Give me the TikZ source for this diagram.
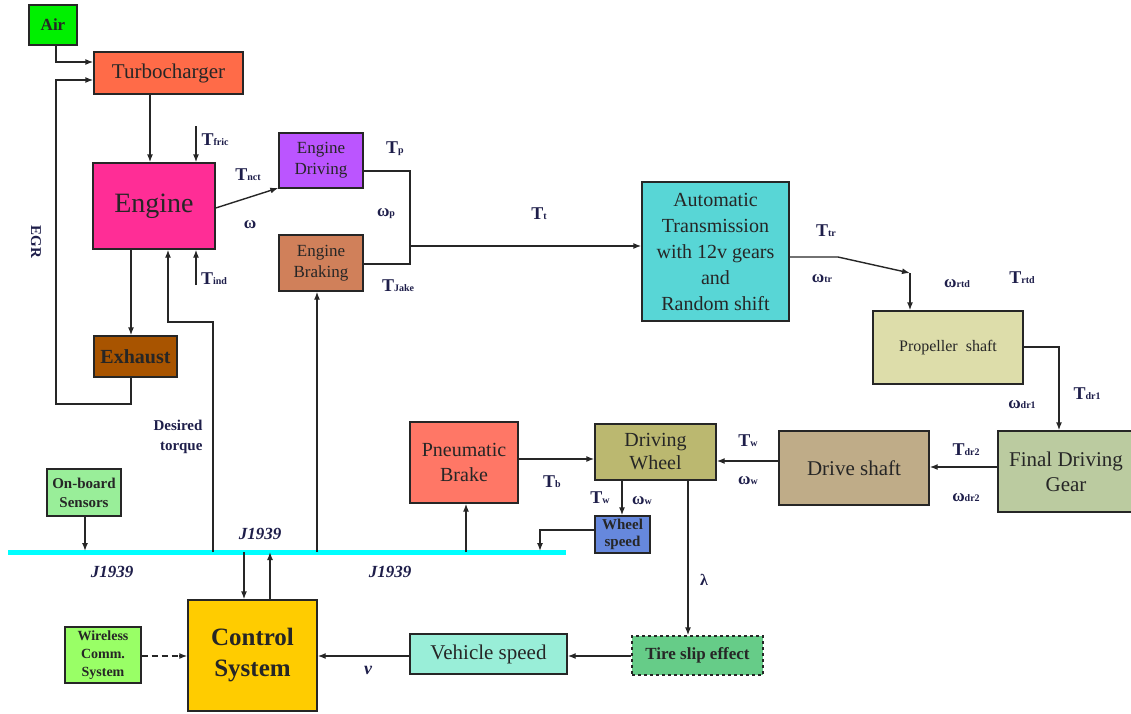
\documentclass[tikz,border=0pt]{standalone}
\usepackage{fontspec}
\setmainfont{Liberation Serif}
\usetikzlibrary{arrows.meta}
\definecolor{lblc}{HTML}{1E1E4A}
\newcommand\lblT[1]{{\fontsize{18}{18}\selectfont\bfseries T}{\fontsize{10}{10}\selectfont\bfseries #1}}
\newcommand\lblW[1]{{\fontsize{17}{17}\selectfont\bfseries ω}{\fontsize{10}{10}\selectfont\bfseries #1}}
\newcommand\fs[2]{\fontsize{#1}{#2}\selectfont}
\begin{document}
\begin{tikzpicture}[x=1pt,y=-1pt,
  box/.style={draw=black!85,line width=1.4pt,inner sep=0pt,align=center,text=black!85},
  conn/.style={line width=1.4pt,draw=black!85},
  arr/.style={conn,-{Latex[length=8pt,width=6pt]}},
  lbl/.style={text=lblc,inner sep=0pt},
  jl/.style={lbl,font=\fs{17}{17}\bfseries\itshape}]
\useasboundingbox (0,0) rectangle (1131,713);
% boxes
\node[box,fill={rgb,255:red,0;green,240;blue,0},minimum width=48pt,minimum height=40pt,font=\fs{17}{17}\bfseries] (air) at (53,25) {Air};
\node[box,fill={rgb,255:red,255;green,107;blue,72},minimum width=149pt,minimum height=42pt,font=\fs{21}{21}] (turbo) at (168.5,73) {Turbocharger};
\node[box,fill={rgb,255:red,255;green,45;blue,150},minimum width=122pt,minimum height=86pt,font=\fs{28}{28}] (engine) at (154,206) {Engine};
\node[box,fill={rgb,255:red,168;green,84;blue,0},minimum width=83pt,minimum height=41pt,font=\fs{20}{20}\bfseries] (exhaust) at (135.5,356.5) {Exhaust};
\node[box,fill={rgb,255:red,187;green,85;blue,255},minimum width=84pt,minimum height=55pt,font=\fs{17}{21}] (edrive) at (321,160.5) {Engine\\Driving};
\node[box,fill={rgb,255:red,208;green,128;blue,90},minimum width=84pt,minimum height=56pt,font=\fs{17}{21}] (ebrake) at (321,263) {Engine\\Braking};
\node[box,fill={rgb,255:red,88;green,214;blue,214},minimum width=147pt,minimum height=139pt,font=\fs{20}{26}] (trans) at (715.5,251.5) {Automatic\\Transmission\\with 12v gears\\and\\Random shift};
\node[box,fill={rgb,255:red,221;green,221;blue,170},minimum width=150pt,minimum height=73pt,font=\fs{16}{16}] (prop) at (948,347.5) {Propeller\ \ shaft};
\node[box,fill={rgb,255:red,187;green,203;blue,160},minimum width=136pt,minimum height=81pt,font=\fs{21}{25}] (fdg) at (1066,471.5) {Final Driving\\Gear};
\node[box,fill={rgb,255:red,191;green,172;blue,136},minimum width=150pt,minimum height=74pt,font=\fs{21}{21}] (dshaft) at (854,468) {Drive shaft};
\node[box,fill={rgb,255:red,187;green,184;blue,112},minimum width=121pt,minimum height=56pt,font=\fs{20}{23}] (wheel) at (655.5,452) {Driving\\Wheel};
\node[box,fill={rgb,255:red,255;green,119;blue,102},minimum width=108pt,minimum height=81pt,font=\fs{20}{25}] (pbrake) at (464,462.5) {Pneumatic\\Brake};
\node[box,fill={rgb,255:red,102;green,136;blue,221},minimum width=55pt,minimum height=37pt,font=\fs{15}{17}\bfseries] (wspeed) at (622.5,534.5) {Wheel\\speed};
\node[box,fill={rgb,255:red,153;green,238;blue,153},minimum width=74pt,minimum height=47pt,font=\fs{15}{19}\bfseries] (sensors) at (84,492.5) {On-board\\Sensors};
\node[box,fill={rgb,255:red,255;green,204;blue,0},minimum width=129pt,minimum height=111pt,font=\fs{25}{31}\bfseries] (ctrl) at (252.5,655.5) {Control\\System};
\node[box,fill={rgb,255:red,153;green,255;blue,102},minimum width=76pt,minimum height=56pt,font=\fs{14}{18}\bfseries] (wireless) at (103,655) {Wireless\\Comm.\\System};
\node[box,fill={rgb,255:red,153;green,238;blue,216},minimum width=157pt,minimum height=40pt,font=\fs{21}{21}] (vspeed) at (488.5,654) {Vehicle speed};
\node[box,dashed,fill={rgb,255:red,102;green,204;blue,136},minimum width=131pt,minimum height=39pt,font=\fs{17}{17}\bfseries] (tire) at (697.5,655.5) {Tire slip effect};
% bus
\coordinate (busL) at (8,552);
\coordinate (busR) at (566,552);
\draw[line width=5pt,draw={rgb,255:red,0;green,255;blue,255}] (busL) -- (busR);
% connectors
\draw[arr] (air.south -| 56,0) |- (turbo.west |- 0,62);
\draw[arr] (exhaust.south -| 131,0) -- (131,404) -| (56,80) -- (turbo.west |- 0,80);
\draw[arr] (turbo.south -| 150,0) -- (engine.north -| 150,0);
\coordinate (tfric) at (196,126);
\draw[arr] (tfric) -- (engine.north -| 196,0);
\coordinate (tind) at (196,285);
\draw[arr] (tind) -- (engine.south -| 196,0);
\draw[arr] (engine.east |- 0,208) -- (edrive.west |- 0,188);
\draw[arr] (engine.south -| 131,0) -- (exhaust.north -| 131,0);
\draw[arr] (213,552) -- (213,322) -- (168,322) -- (engine.south -| 168,0);
\draw[conn] (edrive.east |- 0,171) -- (410,171) -- (410,264) -- (ebrake.east |- 0,264);
\draw[arr] (410,246) -- (trans.west |- 0,246);
\draw[arr] (317,552) -- (ebrake.south -| 317,0);
\draw[arr] (trans.east |- 0,257) -- (838,257) -- (910,273);
\draw[arr] (910,273) -- (prop.north -| 910,0);
\draw[arr] (prop.east |- 0,347) -- (1059,347) -- (fdg.north -| 1059,0);
\draw[arr] (fdg.west |- 0,467) -- (dshaft.east |- 0,467);
\draw[arr] (dshaft.west |- 0,461) -- (wheel.east |- 0,461);
\draw[arr] (pbrake.east |- 0,459) -- (wheel.west |- 0,459);
\draw[arr] (466,552) -- (pbrake.south -| 466,0);
\draw[arr] (wheel.south -| 622,0) -- (wspeed.north -| 622,0);
\draw[arr] (wspeed.west |- 0,530) -- (540,530) -- (540,551);
\draw[arr] (wheel.south -| 688,0) -- (tire.north -| 688,0);
\draw[arr] (tire.west |- 0,656) -- (vspeed.east |- 0,656);
\draw[arr] (vspeed.west |- 0,656) -- (ctrl.east |- 0,656);
\draw[conn,dashed,dash pattern=on 6pt off 4pt] (wireless.east |- 0,656) -- (180,656);
\draw[arr] (179,656) -- (ctrl.west |- 0,656);
\draw[arr] (sensors.south -| 85,0) -- (85,551);
\draw[arr] (244,552) -- (ctrl.north -| 244,0);
\draw[arr] (ctrl.north -| 270,0) -- (270,552);
% labels
\node[lbl] (l1) at (215,140) {\lblT{fric}};
\node[lbl] (l2) at (248,175) {\lblT{nct}};
\node[lbl] (l3) at (250,225) {\lblW{}};
\node[lbl] (l4) at (214,279) {\lblT{ind}};
\node[lbl] (l5) at (395,149) {\lblT{p}};
\node[lbl] (l6) at (386,214) {\lblW{p}};
\node[lbl] (l7) at (539,214) {\lblT{t}};
\node[lbl] (l8) at (398,286) {\lblT{Jake}};
\node[lbl] (l9) at (826,231) {\lblT{tr}};
\node[lbl] (l10) at (822,279) {\lblW{tr}};
\node[lbl] (l11) at (957,284) {\lblW{rtd}};
\node[lbl] (l12) at (1022,278) {\lblT{rtd}};
\node[lbl] (l13) at (1087,394) {\lblT{dr1}};
\node[lbl] (l14) at (1022,405) {\lblW{dr1}};
\node[lbl] (l15) at (966,450) {\lblT{dr2}};
\node[lbl] (l16) at (966,498) {\lblW{dr2}};
\node[lbl] (l17) at (748,441) {\lblT{w}};
\node[lbl] (l18) at (748,481) {\lblW{w}};
\node[lbl] (l19) at (552,482) {\lblT{b}};
\node[lbl] (l20) at (600,498) {\lblT{w}};
\node[lbl] (l21) at (642,501) {\lblW{w}};
\node[lbl,font=\fs{16}{16}\bfseries] (l22) at (704,580) {λ};
\node[lbl,font=\fs{18}{18}\bfseries\itshape] (l23) at (368,670) {v};
\node[jl] (j1) at (260,534) {J1939};
\node[jl] (j2) at (112,572) {J1939};
\node[jl] (j3) at (390,572) {J1939};
\node[lbl,align=right,font=\fs{15}{20}\bfseries] (dt) at (178,437) {Desired\\torque};
\node[lbl,rotate=-90,font=\fs{15}{15}\bfseries] (egr) at (36,242) {EGR};
\end{tikzpicture}
\end{document}
